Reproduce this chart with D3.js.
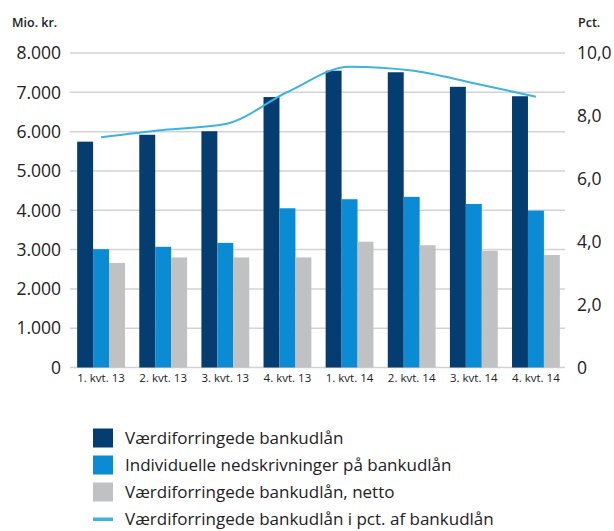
<!DOCTYPE html>
<html>
<head>
<meta charset="utf-8">
<script src="https://cdn.jsdelivr.net/npm/d3@7"></script>
<style>
  body { margin: 0; background: #fff; }
  svg { font-family: "Open Sans", "Noto Sans", sans-serif; }
</style>
</head>
<body>
<div id="chart"></div>
<script>
const width = 614;
const height = 531;

const quarters = ["1. kvt. 13", "2. kvt. 13", "3. kvt. 13", "4. kvt. 13", "1. kvt. 14", "2. kvt. 14", "3. kvt. 14", "4. kvt. 14"];
const impaired = [5745, 5920, 6010, 6880, 7550, 7510, 7140, 6900];
const writedowns = [3010, 3070, 3170, 4050, 4280, 4340, 4160, 3990];
const netImpaired = [2660, 2800, 2800, 2800, 3200, 3110, 2970, 2860];
const pctOfLoans = [7.32, 7.55, 7.74, 8.76, 9.56, 9.44, 9.04, 8.61];

const leftTicks = [0, 1000, 2000, 3000, 4000, 5000, 6000, 7000, 8000];
const rightTicks = [0, 2, 4, 6, 8, 10];

const seriesNames = [
  "Værdiforringede bankudlån",
  "Individuelle nedskrivninger på bankudlån",
  "Værdiforringede bankudlån, netto",
  "Værdiforringede bankudlån i pct. af bankudlån"
];
const colors = ["#063d70", "#0a8bd3", "#c0c1c3", "#3fb3e0"];

const svg = d3.select("#chart")
  .append("svg")
  .attr("width", width)
  .attr("height", height);

const plot = { left: 70, right: 567, top: 53, bottom: 367.5 };

const x = d3.scaleBand()
  .domain(quarters)
  .range([plot.left, plot.right])
  .paddingInner(0.23)
  .paddingOuter(0.115);

const yLeft = d3.scaleLinear().domain([0, 8000]).range([plot.bottom, plot.top]);
const yRight = d3.scaleLinear().domain([0, 10]).range([plot.bottom, plot.top]);

const sub = d3.scaleBand()
  .domain([0, 1, 2])
  .range([0, x.bandwidth()]);

// gridlines
svg.append("g")
  .selectAll("line")
  .data(leftTicks)
  .join("line")
  .attr("x1", plot.left)
  .attr("x2", 565)
  .attr("y1", d => yLeft(d))
  .attr("y2", d => yLeft(d))
  .attr("stroke", "#d3d3d3")
  .attr("stroke-width", 1.5);

// left axis labels
svg.append("g")
  .selectAll("text")
  .data(leftTicks)
  .join("text")
  .attr("x", 61)
  .attr("y", d => yLeft(d))
  .attr("dy", "0.36em")
  .attr("text-anchor", "end")
  .attr("font-size", 17.5)
  .attr("fill", "#222")
  .text(d => d3.format(",")(d).replace(/,/g, "."));

// right axis labels
svg.append("g")
  .selectAll("text")
  .data(rightTicks)
  .join("text")
  .attr("x", 577)
  .attr("y", d => yRight(d))
  .attr("dy", "0.36em")
  .attr("font-size", 17.5)
  .attr("fill", "#222")
  .text(d => d === 0 ? "0" : d.toFixed(1).replace(".", ","));

svg.append("text")
  .attr("x", 12)
  .attr("y", 27)
  .attr("font-size", 12.5)
  .attr("font-weight", 600)
  .attr("fill", "#222")
  .text("Mio. kr.");

svg.append("text")
  .attr("x", 578)
  .attr("y", 27)
  .attr("font-size", 12.5)
  .attr("font-weight", 600)
  .attr("fill", "#222")
  .text("Pct.");

// bars
const barSeries = [impaired, writedowns, netImpaired];
barSeries.forEach((values, s) => {
  svg.append("g")
    .selectAll("rect")
    .data(values)
    .join("rect")
    .attr("x", (d, i) => x(quarters[i]) + sub(s))
    .attr("width", sub.bandwidth())
    .attr("y", d => yLeft(d))
    .attr("height", d => yLeft(0) - yLeft(d))
    .attr("fill", colors[s]);
});

// line
const line = d3.line()
  .x((d, i) => x(quarters[i]) + x.bandwidth() / 2)
  .y(d => yRight(d))
  .curve(d3.curveMonotoneX);

svg.append("path")
  .datum(pctOfLoans)
  .attr("d", line)
  .attr("fill", "none")
  .attr("stroke", colors[3])
  .attr("stroke-width", 2);

// x labels
svg.append("g")
  .selectAll("text")
  .data(quarters)
  .join("text")
  .attr("x", d => x(d) + x.bandwidth() / 2)
  .attr("y", 382)
  .attr("text-anchor", "middle")
  .attr("font-size", 11.5)
  .attr("fill", "#222")
  .text(d => d);

// legend
const legend = svg.append("g")
  .selectAll("g")
  .data(seriesNames)
  .join("g")
  .attr("transform", (d, i) => `translate(93, ${438 + i * 27})`);

legend.filter((d, i) => i < 3)
  .append("rect")
  .attr("x", 0)
  .attr("y", -9.5)
  .attr("width", 20)
  .attr("height", 19)
  .attr("fill", (d, i) => colors[i]);

legend.filter((d, i) => i === 3)
  .append("rect")
  .attr("x", 0)
  .attr("y", -1.5)
  .attr("width", 20)
  .attr("height", 3.5)
  .attr("fill", colors[3]);

legend.append("text")
  .attr("x", 32)
  .attr("y", 0)
  .attr("dy", "0.36em")
  .attr("font-size", 17)
  .attr("fill", "#222")
  .text(d => d);
</script>
</body>
</html>
